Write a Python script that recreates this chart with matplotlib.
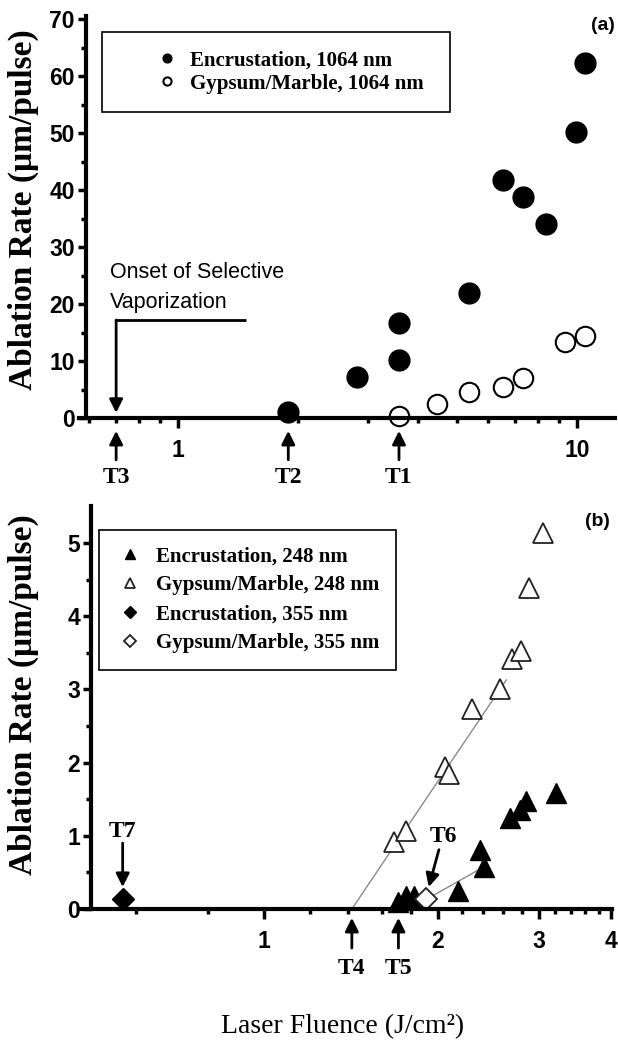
import numpy as np
import matplotlib
matplotlib.use("Agg")
import matplotlib.pyplot as plt
from matplotlib.ticker import FixedLocator, NullFormatter, FixedFormatter

# (a) 1064 nm, fluence (J/cm2) vs ablation rate (um/pulse)
enc_1064_x = [1.89, 2.81, 3.58, 3.58, 5.36, 6.52, 7.32, 8.36, 9.94, 10.47]
enc_1064_y = [1.0, 7.2, 10.1, 16.6, 21.9, 41.8, 38.9, 34.0, 50.3, 62.3]
gyp_1064_x = [3.58, 4.46, 5.36, 6.52, 7.32, 9.33, 10.47]
gyp_1064_y = [0.3, 2.4, 4.6, 5.4, 7.0, 13.4, 14.4]

# (b) 248 nm and 355 nm
enc_248_x = [1.71, 1.76, 1.82, 2.17, 2.37, 2.41, 2.67, 2.78, 2.85, 3.21]
enc_248_y = [0.10, 0.18, 0.18, 0.24, 0.81, 0.58, 1.24, 1.35, 1.47, 1.58]
gyp_248_x = [1.68, 1.76, 2.06, 2.09, 2.29, 2.56, 2.69, 2.79, 2.88, 3.05]
gyp_248_y = [0.92, 1.07, 1.94, 1.84, 2.73, 3.00, 3.42, 3.52, 4.38, 5.13]
enc_355_x = [0.569]
enc_355_y = [0.13]
gyp_355_x = [1.91]
gyp_355_y = [0.13]

# fit lines
fit_248_x = [1.42, 2.63]
fit_248_y = [0.0, 3.13]
fit_355_x = [1.91, 2.41]
fit_355_y = [0.13, 0.58]

# thresholds
top_thr = {"T3": 0.70, "T2": 1.89, "T1": 3.58}
bot_thr = {"T4": 1.42, "T5": 1.71}

W, H = 618, 1041
fig = plt.figure(figsize=(W / 100, H / 100), dpi=100)

tickfont = dict(family="Liberation Sans", weight="bold", size=16.5)
serif_b = dict(family="Liberation Serif", weight="bold")
arrow = dict(arrowstyle="-|>", color="black", lw=2, mutation_scale=20, shrinkA=0, shrinkB=0)


def style_axis(ax):
    for s in ["top", "right"]:
        ax.spines[s].set_visible(False)
    for s in ["left", "bottom"]:
        ax.spines[s].set_linewidth(3)
    ax.tick_params(which="major", direction="out", length=7, width=2.5, pad=8)
    ax.tick_params(which="minor", direction="out", length=3.5, width=2.5)
    ax.tick_params(axis="y", which="major", pad=2, length=6)
    for lab in ax.get_xticklabels() + ax.get_yticklabels():
        lab.set_fontproperties(matplotlib.font_manager.FontProperties(**tickfont))


# ---------------- panel (a) ----------------
ax1 = fig.add_axes([79 / W, 1 - 418 / H, 536 / W, 402 / H])
ax1.set_xscale("log")
ax1.set_xlim(0.565, 12.45)
ax1.set_ylim(0, 70.6)
ax1.spines["left"].set_position(("data", 0.588))
ax1.plot(enc_1064_x, enc_1064_y, "o", ms=15, color="black", clip_on=False,
         label="Encrustation, 1064 nm")
ax1.plot(gyp_1064_x, gyp_1064_y, "o", ms=14, mfc="white", mec="black", mew=1.5,
         clip_on=False, label="Gypsum/Marble, 1064 nm")
ax1.xaxis.set_major_locator(FixedLocator([1, 10]))
ax1.xaxis.set_major_formatter(FixedFormatter(["1", "10"]))
ax1.xaxis.set_minor_locator(FixedLocator([0.6, 0.7, 0.8, 0.9] + list(range(2, 10))))
ax1.xaxis.set_minor_formatter(NullFormatter())
ax1.set_yticks(np.arange(0, 71, 10))
ax1.yaxis.set_minor_locator(FixedLocator(np.arange(5, 70, 10)))
style_axis(ax1)

leg1 = ax1.legend(loc="upper left", bbox_to_anchor=(101.7 / W, 1 - 106.7 / H, 348 / W, 75 / H),
                  bbox_transform=fig.transFigure, mode="expand", borderaxespad=0,
                  prop=dict(family="Liberation Serif", weight="bold", size=15),
                  markerscale=0.42, borderpad=0.9, handlelength=4.5, handletextpad=-1.16,
                  labelspacing=0.15, fancybox=False, framealpha=1, edgecolor="black")
leg1.get_frame().set_linewidth(1.2)

# onset annotation
ax1.text(0.675, 25.6, "Onset of Selective", ha="left", va="center",
         family="Liberation Sans", weight="medium", size=15.5)
ax1.text(0.675, 20.2, "Vaporization", ha="left", va="center",
         family="Liberation Sans", weight="medium", size=15.5)
ax1.plot([0.70, 1.48], [17.2, 17.2], color="black", lw=2, solid_capstyle="butt")
ax1.annotate("", xy=(0.70, 0.9), xytext=(0.70, 17.2), arrowprops=arrow)

trans1 = ax1.get_xaxis_transform()
for name, xv in top_thr.items():
    ax1.annotate("", xy=(xv, -0.032), xytext=(xv, -0.104), xycoords=trans1,
                 textcoords=trans1, arrowprops=arrow, annotation_clip=False)
    ax1.text(xv, -0.149, name, transform=trans1, ha="center", va="center", size=17, **serif_b)

# ---------------- panel (b) ----------------
ax2 = fig.add_axes([79 / W, 1 - 909 / H, 533 / W, 402.6 / H])
ax2.set_xscale("log")
ax2.set_xlim(0.478, 4.01)
ax2.set_ylim(0, 5.5)
ax2.spines["left"].set_position(("data", 0.502))
ax2.plot(fit_248_x, fit_248_y, color="#8a8a8a", lw=1)
ax2.plot(fit_355_x, fit_355_y, color="#8a8a8a", lw=1)
ax2.plot(enc_248_x, enc_248_y, "^", ms=14, color="black", clip_on=False,
         label="Encrustation, 248 nm")
ax2.plot(gyp_248_x, gyp_248_y, "^", ms=14, mfc="white", mec="#222222", mew=1.3,
         clip_on=False, label="Gypsum/Marble, 248 nm")
ax2.plot(enc_355_x, enc_355_y, "D", ms=11.5, color="black", clip_on=False,
         label="Encrustation, 355 nm")
ax2.plot(gyp_355_x, gyp_355_y, "D", ms=11.5, mfc="white", mec="#222222", mew=1.3,
         clip_on=False, label="Gypsum/Marble, 355 nm")
ax2.xaxis.set_major_locator(FixedLocator([1, 2, 3, 4]))
ax2.xaxis.set_major_formatter(FixedFormatter(["1", "2", "3", "4"]))
ax2.xaxis.set_minor_locator(FixedLocator([0.6, 0.8, 1.2, 1.4, 1.6, 1.8, 2.2, 2.4, 2.6, 2.8,
                                          3.2, 3.4, 3.6, 3.8]))
ax2.xaxis.set_minor_formatter(NullFormatter())
ax2.set_yticks([0, 1, 2, 3, 4, 5])
ax2.yaxis.set_minor_locator(FixedLocator([0.5, 1.5, 2.5, 3.5, 4.5]))
style_axis(ax2)

leg2 = ax2.legend(loc="upper left", bbox_to_anchor=(98.5 / W, 1 - 675 / H, 297.5 / W, 145 / H),
                  bbox_transform=fig.transFigure, mode="expand", borderaxespad=0,
                  prop=dict(family="Liberation Serif", weight="bold", size=15),
                  markerscale=0.5, borderpad=0.8, handlelength=1.42, handletextpad=0.54,
                  labelspacing=0.42, fancybox=False, framealpha=1, edgecolor="black")
leg2.get_frame().set_linewidth(1.2)

trans2 = ax2.get_xaxis_transform()
for name, xv in bot_thr.items():
    ax2.annotate("", xy=(xv, -0.022), xytext=(xv, -0.097), xycoords=trans2,
                 textcoords=trans2, arrowprops=arrow, annotation_clip=False)
    ax2.text(xv, -0.147, name, transform=trans2, ha="center", va="center", size=17, **serif_b)

# T7 and T6
ax2.text(0.569, 1.056, "T7", ha="center", va="center", size=17, **serif_b)
ax2.annotate("", xy=(0.569, 0.30), xytext=(0.569, 0.90), arrowprops=arrow)
ax2.text(2.045, 0.99, "T6", ha="center", va="center", size=17, **serif_b)
ax2.annotate("", xy=(1.93, 0.30), xytext=(2.01, 0.81), arrowprops=arrow)

# labels
ylab = "Ablation Rate (\u03bcm/pulse)"
fig.text(23 / W, 1 - 210 / H, ylab, rotation=90, ha="center", va="center", size=24, **serif_b)
fig.text(23 / W, 1 - 695 / H, ylab, rotation=90, ha="center", va="center", size=24, **serif_b)
fig.text(343 / W, 1 - 1027 / H, "Laser Fluence (J/cm\u00b2)", ha="center", va="center",
         family="Liberation Serif", size=20)
fig.text(603 / W, 1 - 25 / H, "(a)", ha="center", va="center", family="Liberation Sans",
         weight="bold", size=14)
fig.text(597 / W, 1 - 522 / H, "(b)", ha="center", va="center", family="Liberation Sans",
         weight="bold", size=14)

fig.savefig("out.png", dpi=100)
